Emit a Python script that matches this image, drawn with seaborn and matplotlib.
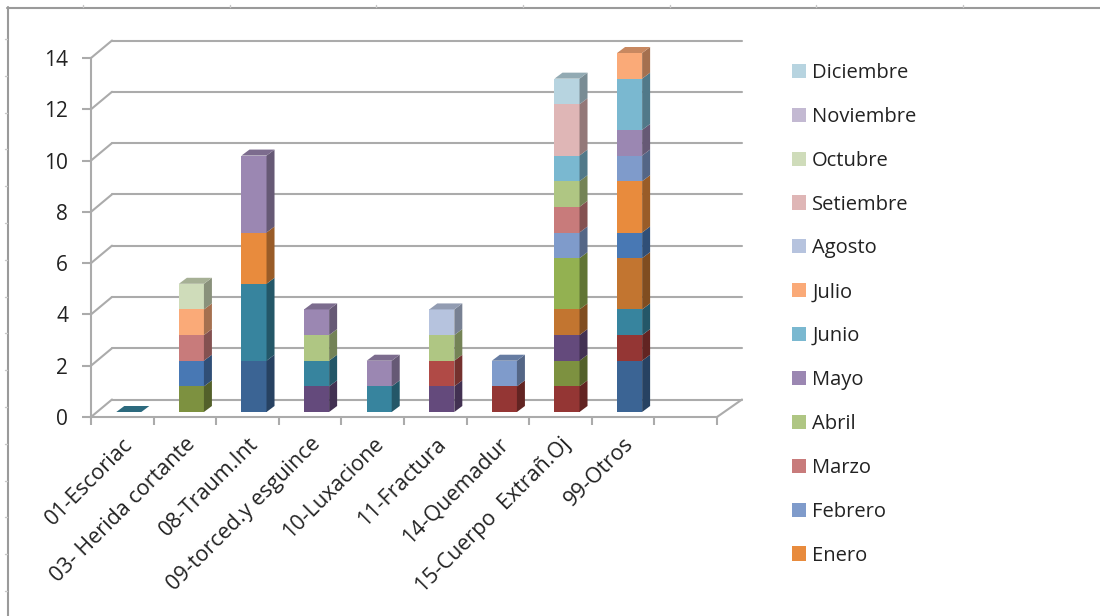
import numpy as np
import matplotlib
matplotlib.use("Agg")
import matplotlib.pyplot as plt
from matplotlib.lines import Line2D
from matplotlib.patches import Polygon
from matplotlib.transforms import Affine2D
from matplotlib.colors import to_rgb
import seaborn as sns

categories = ["01-Escoriac", "03- Herida cortante", "08-Traum.Int", "09-torced.y esguince",
              "10-Luxacione", "11-Fractura", "14-Quemadur", "15-Cuerpo  Extrañ.Oj", "99-Otros"]

# Series that precede "Enero" in the stack (not named in the visible legend)
prev_a = [0, 0, 2, 0, 0, 0, 0, 0, 2]
prev_b = [0, 0, 0, 0, 0, 0, 1, 1, 1]
prev_c = [0, 1, 0, 0, 0, 0, 0, 1, 0]
prev_d = [0, 0, 0, 1, 0, 1, 0, 1, 0]
prev_e = [0, 0, 3, 1, 1, 0, 0, 0, 1]
prev_f = [0, 0, 0, 0, 0, 0, 0, 1, 2]
prev_g = [0, 1, 0, 0, 0, 0, 0, 0, 1]
prev_h = [0, 0, 0, 0, 0, 1, 0, 0, 0]
prev_i = [0, 0, 0, 0, 0, 0, 0, 2, 0]
enero = [0, 0, 2, 0, 0, 0, 0, 0, 2]
febrero = [0, 0, 0, 0, 0, 0, 1, 1, 1]
marzo = [0, 1, 0, 0, 0, 0, 0, 1, 0]
abril = [0, 0, 0, 1, 0, 1, 0, 1, 0]
mayo = [0, 0, 3, 1, 1, 0, 0, 0, 1]
junio = [0, 0, 0, 0, 0, 0, 0, 1, 2]
julio = [0, 1, 0, 0, 0, 0, 0, 0, 1]
agosto = [0, 0, 0, 0, 0, 1, 0, 0, 0]
setiembre = [0, 0, 0, 0, 0, 0, 0, 2, 0]
octubre = [0, 1, 0, 0, 0, 0, 0, 0, 0]
noviembre = [0, 0, 0, 0, 0, 0, 0, 0, 0]
diciembre = [0, 0, 0, 0, 0, 0, 0, 1, 0]

prev_series = [prev_a, prev_b, prev_c, prev_d, prev_e, prev_f, prev_g, prev_h, prev_i]
prev_colors = ["#3B6494", "#943634", "#7D9140", "#644A7C", "#37849E", "#C27530", "#4878B4", "#B04A46", "#93B151"]
months = ["Enero", "Febrero", "Marzo", "Abril", "Mayo", "Junio", "Julio", "Agosto",
          "Setiembre", "Octubre", "Noviembre", "Diciembre"]
month_series = [enero, febrero, marzo, abril, mayo, junio, julio, agosto,
                setiembre, octubre, noviembre, diciembre]
month_colors = ["#E88B3D", "#7F9BCB", "#C87B7B", "#AFC683", "#9B87B2", "#7AB8D0",
                "#FAAA78", "#B6C3DE", "#DFB6B6", "#CFDCBA", "#C3B9D2", "#B7D4E0"]
zero_top_color = "#37849E"

W, H = 1100, 616
sns.set_style("white")
plt.rcParams["font.family"] = ["Open Sans", "DejaVu Sans"]
fig = plt.figure(figsize=(W / 100, H / 100), dpi=100, facecolor="white")

LEFT, RIGHT, BOTTOM, TOP = 91, 717, 417, 58
ax = fig.add_axes([LEFT / W, 1 - BOTTOM / H, (RIGHT - LEFT) / W, (BOTTOM - TOP) / H])
ax.patch.set_alpha(0)

all_series = prev_series + month_series
all_colors = prev_colors + month_colors
all_labels = [None] * len(prev_series) + months
cum = np.zeros(len(categories))
for vals, col, lab in zip(all_series, all_colors, all_labels):
    sns.barplot(x=categories, y=vals, bottom=cum.copy(), color=col, saturation=1, width=0.4,
                label=lab, ax=ax, errorbar=None, linewidth=0, zorder=3, legend=False)
    cum += np.array(vals)

ax.set_xlim(-0.5, 9.5)
ax.set_ylim(0, 14)
slot = (RIGHT - LEFT) / 10
unit = (BOTTOM - TOP) / 14
GRID = "#ababab"
lw = 1.5

# Back wall, side wall and floor
for v in range(0, 15, 2):
    x0, x1 = -0.5, -0.5 + 21 / slot
    yb = v + 17.5 / unit
    ax.plot([x0, x1], [v, yb], color=GRID, lw=lw, clip_on=False, zorder=1, solid_capstyle="round")
    ax.plot([x1, 9.5 + 25 / slot], [yb, yb], color=GRID, lw=lw, clip_on=False, zorder=1)
ax.plot([9.5, 9.5 + 25 / slot], [0, 17.5 / unit], color=GRID, lw=lw, clip_on=False, zorder=1)

# Shift bars into the depth of the floor and add side / top faces
DX, DY = 6.5, 5
SX, SY = 8 / slot, 6 / unit
shift = ax.transData + Affine2D().translate(DX, DY)


def dark(c, f):
    return tuple(v * f for v in to_rgb(c))


tops = {}
for cont, col in zip(ax.containers, all_colors):
    for i, p in enumerate(cont.patches):
        p.set_transform(shift)
        p.set_clip_on(False)
        h = p.get_height()
        if h > 0:
            x, y, w = p.get_x(), p.get_y(), p.get_width()
            ax.add_patch(Polygon([(x + w, y), (x + w + SX, y + SY), (x + w + SX, y + h + SY), (x + w, y + h)],
                                 closed=True, fc=dark(col, 0.66), ec="none", transform=shift,
                                 clip_on=False, zorder=3))
            tops[i] = (x, y + h, w, col)
for i, p in enumerate(ax.containers[0].patches):
    x, y, w, col = tops.get(i, (p.get_x(), 0, p.get_width(), zero_top_color))
    ax.add_patch(Polygon([(x, y), (x + w, y), (x + w + SX, y + SY), (x + SX, y + SY)],
                         closed=True, fc=dark(col, 0.8), ec="none", transform=shift,
                         clip_on=False, zorder=3))

# Axes
sns.despine(ax=ax, top=True, right=True)
for s in ("left", "bottom"):
    ax.spines[s].set_color(GRID)
    ax.spines[s].set_linewidth(lw)
ax.set_yticks(range(0, 15, 2))
ax.tick_params(axis="y", length=6.5, width=lw, color=GRID, labelsize=15, labelcolor="#222222", pad=10, left=True)
ax.set_xticks(np.arange(-0.5, 10, 1))
ax.set_xticklabels([])
ax.set_xticks(np.arange(len(categories)), minor=True)
ax.set_xticklabels(categories, minor=True, rotation=45, ha="right", rotation_mode="anchor",
                   fontsize=15.5, color="#222222")
ax.tick_params(axis="x", which="major", length=6, width=lw, color=GRID, bottom=True)
ax.tick_params(axis="x", which="minor", length=0, pad=12, bottom=False)
ax.set_xlabel("")
ax.set_ylabel("")

# Legend (only months are listed, last stacked on top)
handles = [c for c in ax.containers[len(prev_series):]]
fig.legend(handles[::-1], months[::-1], loc="upper left", bbox_to_anchor=(792 / W, 1 - 63 / H),
           frameon=False, fontsize=14.5, handlelength=0.7, handleheight=0.7, handletextpad=0.3,
           labelspacing=1.185, borderpad=0, borderaxespad=0, labelcolor="#222222")

# Outer chart frame with its small handles
FRAME = "#9a9a9a"
fig.add_artist(Line2D([7 / W, 1], [1 - 7.5 / H, 1 - 7.5 / H], color=FRAME, lw=1.5))
fig.add_artist(Line2D([7.5 / W, 7.5 / W], [1 - 7 / H, 0], color=FRAME, lw=1.5))
for xp in (83, 230, 376, 523, 670, 816, 963):
    fig.add_artist(Line2D([xp / W, xp / W], [1 - 5 / H, 1 - 7 / H], color="#c8c8c8", lw=1))
for yp in np.arange(39, 600, 36.8):
    fig.add_artist(Line2D([5 / W, 7 / W], [1 - yp / H, 1 - yp / H], color="#c8c8c8", lw=1))

fig.savefig("out.png", dpi=100, facecolor="white")
